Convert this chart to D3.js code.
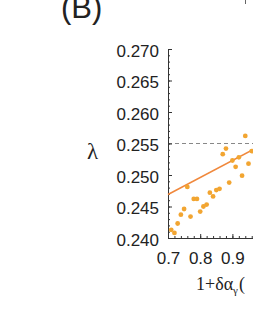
<!DOCTYPE html>
<html>
<head>
<meta charset="utf-8">
<script src="https://cdn.jsdelivr.net/npm/d3@7"></script>
<style>
  html, body { margin: 0; padding: 0; background: #fff; }
  svg { display: block; }
</style>
</head>
<body>
<script>
// ---- data ----
const xValues = [0.71, 0.72, 0.73, 0.74, 0.75, 0.76, 0.77, 0.78, 0.79, 0.80,
                 0.81, 0.82, 0.83, 0.84, 0.85, 0.86, 0.87, 0.88, 0.89, 0.90,
                 0.91, 0.92, 0.93, 0.94, 0.95, 0.96];
const lambdaValues = [0.2413, 0.2408, 0.2423, 0.2437, 0.2446, 0.2481, 0.2434, 0.2462, 0.2462, 0.2442,
                      0.2450, 0.2453, 0.2472, 0.2466, 0.2476, 0.2478, 0.2533, 0.2542, 0.2488, 0.2523,
                      0.2513, 0.2528, 0.2499, 0.2562, 0.2518, 0.2538];
const fitX = [0.70, 1.30];
const fitY = [0.2469, 0.2631];
const referenceLambda = 0.255;
const yTicks = [0.240, 0.245, 0.250, 0.255, 0.260, 0.265, 0.270];
const xTicks = [0.7, 0.8, 0.9];
const panelLabel = "(B)";
const yLabel = "λ";

// ---- layout ----
const W = 253, H = 327;
const svg = d3.select("body").append("svg").attr("width", W).attr("height", H);

const x = d3.scaleLinear().domain([0.7, 1.3]).range([168, 168 + 6 * 32.2]);
const y = d3.scaleLinear().domain([0.240, 0.270]).range([238, 49]);
const axisColor = "#333";
const font = "'Liberation Sans', Arial, sans-serif";

// panel label
svg.append("text").attr("x", 61).attr("y", 18)
  .attr("font-family", font).attr("font-size", 31).attr("fill", "#222")
  .text(panelLabel);

// small mark at top right (edge of neighbouring panel)
svg.append("line").attr("x1", 245.5).attr("x2", 245.5).attr("y1", 0).attr("y2", 4)
  .attr("stroke", "#666").attr("stroke-width", 1);

// dashed reference line
svg.append("line")
  .attr("x1", x(0.7)).attr("x2", x(1.3))
  .attr("y1", y(referenceLambda)).attr("y2", y(referenceLambda))
  .attr("stroke", "#888").attr("stroke-width", 1).attr("stroke-dasharray", "4,3");

// minor ticks
const yMinor = d3.range(0, 31).map(i => +(0.240 + i * 0.001).toFixed(3));
svg.append("g").attr("transform", `translate(${x(0.7)},0)`)
  .call(d3.axisLeft(y).tickValues(yMinor).tickSize(-2).tickFormat(""))
  .call(g => g.select(".domain").remove())
  .call(g => g.selectAll("line").attr("stroke", axisColor));
const xMinor = d3.range(0, 31).map(i => +(0.7 + i * 0.02).toFixed(2));
svg.append("g").attr("transform", `translate(0,${y(0.240)})`)
  .call(d3.axisBottom(x).tickValues(xMinor).tickSize(-2).tickFormat(""))
  .call(g => g.select(".domain").remove())
  .call(g => g.selectAll("line").attr("stroke", axisColor));

// y axis
const yAxis = svg.append("g").attr("transform", `translate(${x(0.7)},0)`)
  .call(d3.axisLeft(y).tickValues(yTicks).tickSizeInner(-4).tickSizeOuter(0)
        .tickPadding(9).tickFormat(d3.format(".3f")));
yAxis.select(".domain").attr("stroke", axisColor);
yAxis.selectAll("line").attr("stroke", axisColor);
yAxis.selectAll("text").attr("font-family", font).attr("font-size", 17)
  .attr("fill", "#222").attr("dy", "0.42em");

// x axis
const xAxis = svg.append("g").attr("transform", `translate(0,${y(0.240)})`)
  .call(d3.axisBottom(x).tickValues(xTicks).tickSizeInner(-4).tickSizeOuter(0)
        .tickPadding(14).tickFormat(d3.format(".1f")));
xAxis.select(".domain").attr("stroke", axisColor);
xAxis.selectAll("line").attr("stroke", axisColor);
xAxis.selectAll("text").attr("font-family", font).attr("font-size", 17).attr("fill", "#222");

// fit line
svg.append("line")
  .attr("x1", x(fitX[0])).attr("y1", y(fitY[0]))
  .attr("x2", x(fitX[1])).attr("y2", y(fitY[1]))
  .attr("stroke", "#F0883C").attr("stroke-width", 1.5);

// points
svg.append("g").selectAll("circle")
  .data(xValues.map((v, i) => [v, lambdaValues[i]]))
  .join("circle")
  .attr("cx", d => x(d[0])).attr("cy", d => y(d[1]))
  .attr("r", 2.4).attr("fill", "#F2A531");

// y label
svg.append("text").attr("x", 87).attr("y", 159)
  .attr("font-family", "'Liberation Serif', 'Times New Roman', serif")
  .attr("font-size", 23).attr("fill", "#222").text(yLabel);

// x label
const xl = svg.append("text").attr("x", 196).attr("y", 290)
  .attr("font-family", "'Liberation Serif', 'Times New Roman', serif")
  .attr("font-size", 18).attr("fill", "#222");
xl.append("tspan").text("1+δα");
xl.append("tspan").attr("font-size", 11).attr("dy", 4).text("γ");
xl.append("tspan").attr("dy", -4).attr("dx", 1).text("(");
</script>
</body>
</html>
